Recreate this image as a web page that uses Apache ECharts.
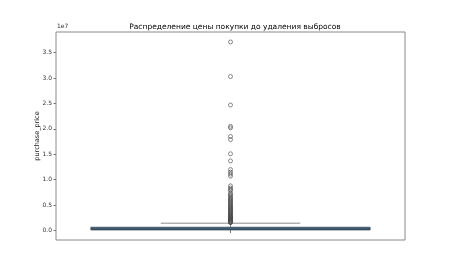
<!DOCTYPE html>
<html><head><meta charset="utf-8">
<script src="https://cdn.jsdelivr.net/npm/echarts@6/dist/echarts.min.js"></script>
<style>html,body{margin:0;padding:0;background:#fff}#c{width:450px;height:270px}</style>
</head><body><div id="c"></div>
<script>
var categories = [''];
// box statistics: [min, Q1, median, Q3, upper whisker]
var boxStats = [0, 120000, 300000, 650000, 1450000];
var outliers = [37100000, 30300000, 24700000, 20500000, 20200000, 18500000, 17900000,
  15100000, 13700000, 12000000, 11500000, 11100000, 10700000, 8800000, 8400000, 8100000, 7900000,
  7400000, 7100000, 6900000, 6600000, 6400000, 6200000, 6000000, 5800000, 5600000, 5400000,
  5200000, 5000000, 4800000, 4650000, 4500000, 4350000, 4200000, 4050000, 3900000, 3750000,
  3600000, 3450000, 3300000, 3150000, 3000000, 2900000, 2800000, 2700000, 2600000, 2500000,
  2400000, 2300000, 2200000, 2100000, 2000000, 1900000, 1800000, 1700000, 1600000, 1550000];
var yTicks = [0, 5000000, 10000000, 15000000, 20000000, 25000000, 30000000, 35000000];
var titleText = 'Распределение цены покупки до удаления выбросов';
var yName = 'purchase_price';

var chart = echarts.init(document.getElementById('c'), null, {renderer: 'canvas'});
var font = 'DejaVu Sans';
chart.setOption({
  animation: false,
  title: {text: titleText, left: 230, top: 18, textAlign: 'center',
    textStyle: {fontFamily: font, fontSize: 7.5, fontWeight: 'normal', color: '#000'}},
  graphic: [{type: 'text', left: 57, top: 23,
    style: {text: '1e7', fontFamily: font, fontSize: 6, fill: '#333'}}],
  grid: {left: 56, right: 45, top: 32, bottom: 30, show: true, borderColor: '#8a8a8a', borderWidth: 1},
  xAxis: {type: 'category', data: categories,
    axisLine: {show: false},
    axisTick: {show: true, alignWithLabel: true, length: 2.5, lineStyle: {color: '#777'}},
    axisLabel: {show: false}},
  yAxis: {type: 'value', min: -1860000, max: 39060000,
    name: yName, nameLocation: 'middle', nameGap: 15, nameMoveOverlap: false,
    nameTextStyle: {fontFamily: font, fontSize: 6.5, color: '#222'},
    axisLine: {show: false},
    splitLine: {show: false},
    axisTick: {show: true, length: 2.5, customValues: yTicks, lineStyle: {color: '#777'}},
    axisLabel: {customValues: yTicks, fontFamily: font, fontSize: 6, color: '#333', margin: 4,
      formatter: function (v) { return (v / 1e7).toFixed(1); }}},
  series: [{
    type: 'custom',
    data: [[0].concat(boxStats)],
    renderItem: function (params, api) {
      var band = api.size([1, 0])[0];
      var cx = api.coord([0, 0])[0];
      var yMin = api.coord([0, api.value(1)])[1];
      var yQ1 = api.coord([0, api.value(2)])[1];
      var yMed = api.coord([0, api.value(3)])[1];
      var yQ3 = api.coord([0, api.value(4)])[1];
      var yMax = api.coord([0, api.value(5)])[1];
      var hw = band * 0.4, cw = band * 0.2;
      var ls = {stroke: '#3f3f3f', lineWidth: 0.8};
      return {type: 'group', children: [
        {type: 'line', shape: {x1: cx, y1: yQ3, x2: cx, y2: yMax}, style: {stroke: '#8a8a8a', lineWidth: 1}},
        {type: 'line', shape: {x1: cx - cw, y1: yMax, x2: cx + cw, y2: yMax}, style: {stroke: '#8a8a8a', lineWidth: 1}},
        {type: 'line', shape: {x1: cx, y1: yQ1, x2: cx, y2: yMin}, style: ls},
        {type: 'rect', shape: {x: cx - hw, y: yQ3, width: 2 * hw, height: yQ1 - yQ3},
          style: {fill: '#3274a1', stroke: '#3f3f3f', lineWidth: 0.8}},
        {type: 'line', shape: {x1: cx - hw, y1: yMed, x2: cx + hw, y2: yMed}, style: ls}
      ]};
    }
  }, {
    type: 'scatter',
    data: outliers.map(function (v) { return [0, v]; }),
    symbol: 'circle', symbolSize: 4,
    itemStyle: {color: 'rgba(0,0,0,0)', borderColor: '#4a4a4a', borderWidth: 0.8}
  }]
});
</script></body></html>
